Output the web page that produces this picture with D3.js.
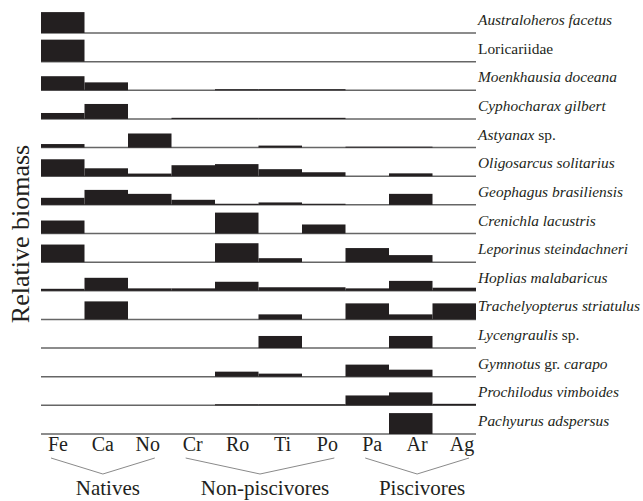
<!DOCTYPE html>
<html lang="en">
<head>
  <meta http-equiv="Content-Type" content="text/html; charset=utf-8">
  <title>Relative biomass</title>
  <style type="text/css">
    body  { margin: 0; background: #fff; }
    svg   { font-family: "Liberation Serif", "Times New Roman", Times, "DejaVu Serif", serif; }
    text  { fill: #231f20; }
    .bar  { fill: #231f20; }
    .base { stroke: #666; stroke-width: 1.5; }
  </style>
</head>
<body>
<script src="https://d3js.org/d3.v7.min.js"></script>
<script>
  //----------------------------------------------------------------------------
  var sites = ["Fe", "Ca", "No", "Cr", "Ro", "Ti", "Po", "Pa", "Ar", "Ag"];

  // species label parts: [text, italic?]
  var species = [
    [["Australoheros facetus", 1]],
    [["Loricariidae", 0]],
    [["Moenkhausia doceana", 1]],
    [["Cyphocharax gilbert", 1]],
    [["Astyanax", 1], [" sp.", 0]],
    [["Oligosarcus solitarius", 1]],
    [["Geophagus brasiliensis", 1]],
    [["Crenichla lacustris", 1]],
    [["Leporinus steindachneri", 1]],
    [["Hoplias malabaricus", 1]],
    [["Trachelyopterus striatulus", 1]],
    [["Lycengraulis", 1], [" sp.", 0]],
    [["Gymnotus", 1], [" gr. ", 0], ["carapo", 1]],
    [["Prochilodus vimboides", 1]],
    [["Pachyurus adspersus", 1]]
  ];

  // relative biomass (% of max), one row per species, columns follow sites
  var biomass = [
    [95,  0,  0,  0,  0,  0,  0,  0,  0,  0],
    [100, 0,  0,  0,  0,  0,  0,  0,  0,  0],
    [64, 36,  0,  0,  5,  5,  5,  0,  0,  0],
    [27, 68,  0,  5,  5,  5,  5,  0,  0,  0],
    [16,  0, 64,  0,  0,  9,  0,  4,  4,  0],
    [77, 36, 12, 50, 55, 32, 18,  0, 13,  0],
    [32, 68, 50, 23,  5, 11,  5,  0, 50,  0],
    [59,  0,  0,  0, 95,  0, 41,  0,  0,  0],
    [80,  0,  0,  0, 86, 18,  0, 64, 32,  0],
    [ 9, 59, 11, 11, 41, 16, 16, 11, 45, 14],
    [ 0, 82,  0,  0,  0, 23,  0, 73, 23, 73],
    [ 0,  0,  0,  0,  0, 55,  0,  0, 55,  0],
    [ 0,  0,  0,  0, 23, 14,  0, 55, 32,  0],
    [ 0,  0,  0,  0,  5,  5,  5, 45, 59,  7],
    [ 0,  0,  0,  0,  0,  0,  0,  0, 95,  0]
  ];

  var groups = [
    { name: "Natives",        from: "Fe", to: "No" },
    { name: "Non-piscivores", from: "Cr", to: "Po" },
    { name: "Piscivores",     from: "Pa", to: "Ag" }
  ];

  var width = 643;
  var height = 501;

  var svg = d3.select("body")
    .append("svg")
      .attr("width", width)
      .attr("height", height);

  var x = d3.scaleBand().domain(sites).range([41, 476]).padding(0);
  var xLab = d3.scalePoint().domain(sites).range([58, 462]);
  var row = d3.scalePoint().domain(d3.range(species.length)).range([33, 434]);
  var h = d3.scaleLinear().domain([0, 100]).range([0, 22]);

  var rows = svg.selectAll("g.row")
    .data(biomass)
    .enter().append("g")
      .attr("class", "row")
      .attr("transform", function(d, i) { return "translate(0," + row(i) + ")"; });

  // baseline of each row
  rows.append("line")
    .attr("class", "base")
    .attr("x1", x.range()[0])
    .attr("x2", x.range()[1])
    .attr("y1", 0)
    .attr("y2", 0);

  // bars
  rows.selectAll("rect")
    .data(function(d) { return d.map(function(v, j) { return { site: sites[j], v: v }; }); })
    .enter().append("rect")
      .attr("class", "bar")
      .attr("x", function(d) { return x(d.site); })
      .attr("width", x.bandwidth())
      .attr("y", function(d) { return -h(d.v); })
      .attr("height", function(d) { return h(d.v); });

  // species labels
  var lab = rows.append("text")
    .attr("x", 478)
    .attr("y", -8)
    .style("font-size", "15.4px");
  lab.selectAll("tspan")
    .data(function(d, i) { return species[i]; })
    .enter().append("tspan")
      .style("font-style", function(d) { return d[1] ? "italic" : "normal"; })
      .text(function(d) { return d[0]; });

  // site labels
  svg.selectAll("text.site")
    .data(sites)
    .enter().append("text")
      .attr("class", "site")
      .attr("x", function(d) { return xLab(d); })
      .attr("y", 451)
      .attr("text-anchor", "middle")
      .style("font-size", "20px")
      .text(function(d) { return d; });

  // group brackets
  var g = svg.selectAll("g.group")
    .data(groups)
    .enter().append("g")
      .attr("class", "group");

  g.append("polyline")
    .attr("fill", "none")
    .attr("stroke", "#8a8a8a")
    .attr("stroke-width", 1)
    .attr("points", function(d) {
      var a = xLab(d.from) - 7, b = xLab(d.to) + 7, m = (a + b) / 2;
      return [[a, 458], [m, 474], [b, 458]].join(" ");
    });

  g.append("text")
    .attr("x", function(d) { return (xLab(d.from) + xLab(d.to)) / 2 + 5; })
    .attr("y", 495)
    .attr("text-anchor", "middle")
    .style("font-size", "21px")
    .text(function(d) { return d.name; });

  // y axis title
  svg.append("text")
    .attr("transform", "translate(29,234) rotate(-90)")
    .attr("text-anchor", "middle")
    .style("font-size", "26px")
    .text("Relative biomass");

  //----------------------------------------------------------------------------
</script>
</body>
</html>
